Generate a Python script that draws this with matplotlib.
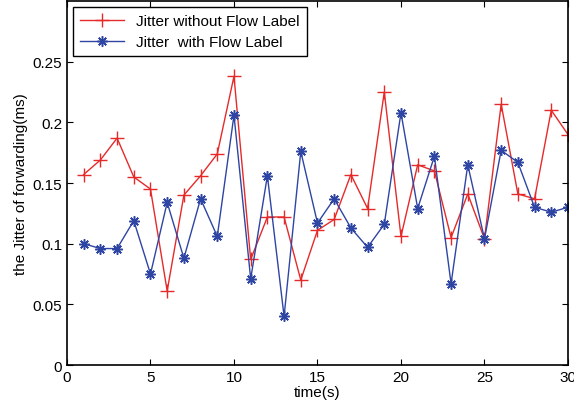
import matplotlib
matplotlib.use("Agg")
import matplotlib.pyplot as plt

plt.rcParams['font.family'] = ['Liberation Sans', 'DejaVu Sans']

time_s = list(range(1, 31))

# jitter without flow label (ms)
jitter_no_fl = [0.157, 0.169, 0.187, 0.155, 0.145, 0.061, 0.140, 0.156, 0.174, 0.238,
                0.087, 0.122, 0.122, 0.070, 0.111, 0.120, 0.157, 0.129, 0.225, 0.106,
                0.165, 0.160, 0.105, 0.141, 0.104, 0.215, 0.141, 0.137, 0.210, 0.190]

# jitter with flow label (ms)
jitter_fl = [0.100, 0.096, 0.096, 0.119, 0.075, 0.134, 0.088, 0.137, 0.106, 0.206,
             0.071, 0.156, 0.040, 0.176, 0.117, 0.137, 0.113, 0.097, 0.116, 0.208,
             0.129, 0.172, 0.067, 0.165, 0.104, 0.177, 0.167, 0.130, 0.126, 0.130]

x_ticks = [0, 5, 10, 15, 20, 25, 30]
y_ticks = [0, 0.05, 0.1, 0.15, 0.2, 0.25]
y_labels = ['0', '0.05', '0.1', '0.15', '0.2', '0.25']

fig = plt.figure(figsize=(5.74, 4.10), dpi=100)
ax = fig.add_axes([0.1167, 0.1073, 0.8728, 0.8877])

# MATLAB style '+' and '*' markers
ax.plot(time_s, jitter_no_fl, color='#e62a2a', marker='+', markersize=10,
        markeredgewidth=1.0, linewidth=1.0, label='Jitter without Flow Label')
ax.plot(time_s, jitter_fl, color='#2e45a3', marker=(8, 2, 0), markersize=7.5,
        markeredgewidth=1.1, linewidth=1.0, label='Jitter  with Flow Label')

ax.set_xlim(0, 30)
ax.set_ylim(0, 0.3)
ax.set_xticks(x_ticks)
ax.set_yticks(y_ticks)
ax.set_yticklabels(y_labels)
ax.tick_params(direction='in', top=True, right=True, labelsize=11, length=4)
for s in ax.spines.values():
    s.set_linewidth(1.2)

ax.set_xlabel('time(s)', fontsize=11, labelpad=1)
ax.set_ylabel('the Jitter of forwarding(ms)', fontsize=11, labelpad=3)

leg = ax.legend(loc='upper left', fontsize=11, fancybox=False, edgecolor='black',
                framealpha=1, borderaxespad=0.4, handlelength=2.9, labelspacing=0.45,
                borderpad=0.45)
leg.get_frame().set_linewidth(1.0)

fig.savefig('out.png', dpi=100)
